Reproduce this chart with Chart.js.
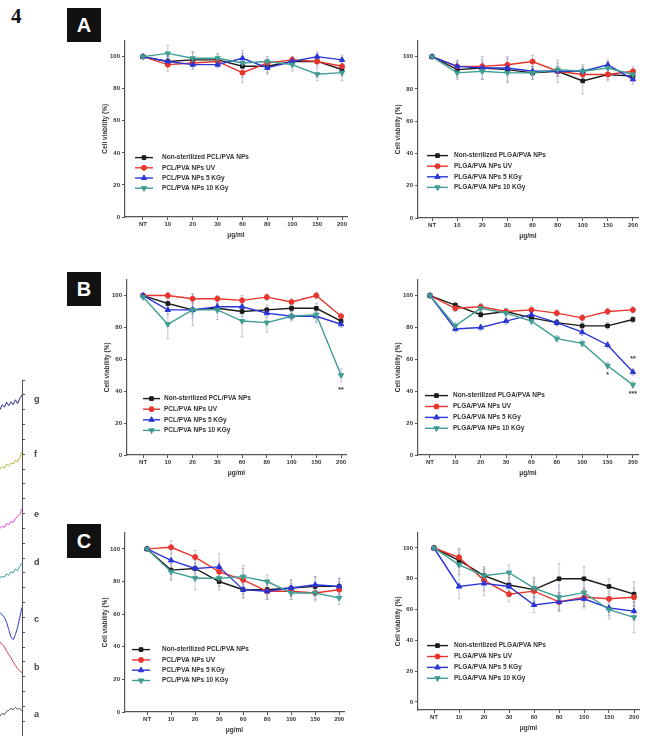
<!DOCTYPE html>
<html>
<head>
<meta charset="utf-8">
<script src="https://cdn.jsdelivr.net/npm/chart.js@4.4.0/dist/chart.umd.min.js"></script>
<style>
  body { margin: 0; background: #fff; width: 648px; height: 736px; position: relative; overflow: hidden; }
  .tag { position: absolute; width: 34px; height: 34px; background: #111; color: #fff;
         font: bold 20px "Liberation Sans", Arial, sans-serif; display: flex; align-items: center; justify-content: center; }
  .num { position: absolute; left: 11px; top: 4px; font: bold 21px "Liberation Serif", "DejaVu Serif", serif; color: #111; }
</style>
</head>
<body>
<div class="num">4</div>
<div class="tag" style="left:67px;top:8px">A</div>
<div class="tag" style="left:67px;top:272px">B</div>
<div class="tag" style="left:67px;top:524px">C</div>

<script>
const FONT = '"Liberation Sans", Arial, sans-serif';

const xLabels = ['NT', '10', '20', '30', '60', '80', '100', '150', '200'];
const yTicks = [0, 20, 40, 60, 80, 100];
const pclNames = ['Non-sterilized PCL/PVA NPs', 'PCL/PVA NPs UV', 'PCL/PVA NPs 5 KGy', 'PCL/PVA NPs 10 KGy'];
const plgaNames = ['Non-sterilized PLGA/PVA NPs', 'PLGA/PVA NPs UV', 'PLGA/PVA NPs 5 KGy', 'PLGA/PVA NPs 10 KGy'];

// panel A - PCL/PVA
const aPclNonSter = [100, 97, 98, 98, 94, 94, 97, 97, 92];
const aPclUV      = [100, 95, 96, 97, 90, 96, 98, 97, 94];
const aPcl5       = [100, 97, 95, 95, 99, 93, 97, 100, 98];
const aPcl10      = [100, 102, 99, 99, 96, 97, 95, 89, 90];
const aPclErr = [[0, 3, 5, 3, 10, 4, 3, 3, 4], [0, 4, 2, 2, 3, 3, 2, 2, 3], [0, 3, 3, 2, 3, 4, 2, 3, 3], [0, 5, 4, 3, 3, 3, 4, 4, 5]];

// panel A - PLGA/PVA
const aPlgaNonSter = [100, 92, 93, 92, 90, 91, 85, 89, 88];
const aPlgaUV      = [100, 94, 94, 95, 97, 91, 89, 89, 91];
const aPlga5       = [100, 94, 93, 93, 91, 91, 91, 95, 86];
const aPlga10      = [100, 90, 91, 90, 90, 92, 91, 93, 89];
const aPlgaErr = [[0, 5, 7, 8, 4, 7, 8, 4, 3], [0, 4, 4, 4, 4, 3, 3, 3, 3], [0, 3, 3, 3, 3, 3, 3, 3, 3], [0, 4, 5, 5, 4, 4, 4, 4, 3]];

// panel B - PCL/PVA
const bPclNonSter = [100, 95, 91, 92, 90, 91, 92, 92, 84];
const bPclUV      = [100, 100, 98, 98, 97, 99, 96, 100, 87];
const bPcl5       = [100, 91, 91, 93, 93, 89, 87, 87, 82];
const bPcl10      = [99, 82, 91, 91, 84, 83, 87, 88, 50];
const bPclErr = [[0, 3, 3, 3, 3, 3, 2, 3, 2], [0, 2, 3, 2, 3, 2, 2, 2, 2], [0, 3, 5, 3, 3, 3, 2, 3, 2], [0, 9, 10, 6, 10, 6, 3, 5, 4]];

// panel B - PLGA/PVA
const bPlgaNonSter = [100, 94, 88, 90, 86, 83, 81, 81, 85];
const bPlgaUV      = [100, 92, 93, 90, 91, 89, 86, 90, 91];
const bPlga5       = [100, 79, 80, 84, 88, 83, 77, 69, 52];
const bPlga10      = [100, 81, 92, 89, 84, 73, 70, 56, 44];
const bPlgaErr = [[0, 2, 2, 2, 2, 2, 2, 2, 2], [0, 2, 2, 2, 2, 2, 2, 2, 2], [0, 2, 2, 2, 2, 2, 2, 2, 2], [0, 2, 2, 2, 2, 2, 2, 2, 2]];

// panel C - PCL/PVA
const cPclNonSter = [100, 87, 88, 80, 75, 75, 76, 77, 77];
const cPclUV      = [100, 101, 95, 86, 81, 74, 74, 73, 75];
const cPcl5       = [100, 93, 88, 89, 75, 74, 76, 78, 77];
const cPcl10      = [100, 86, 82, 82, 83, 80, 73, 73, 70];
const cPclErr = [[0, 6, 6, 5, 5, 5, 5, 6, 5], [0, 4, 4, 6, 9, 5, 5, 5, 5], [0, 7, 6, 8, 5, 5, 5, 5, 5], [0, 5, 7, 5, 5, 4, 4, 4, 4]];

// panel C - PLGA/PVA
const cPlgaNonSter = [100, 92, 82, 76, 73, 80, 80, 75, 70];
const cPlgaUV      = [100, 94, 79, 70, 72, 65, 68, 67, 68];
const cPlga5       = [100, 75, 77, 75, 63, 65, 67, 61, 59];
const cPlga10      = [100, 89, 82, 84, 74, 68, 71, 60, 55];
const cPlgaErr = [[0, 7, 6, 5, 8, 10, 8, 5, 8], [0, 6, 7, 5, 6, 6, 6, 5, 6], [0, 8, 8, 6, 5, 6, 6, 5, 6], [0, 6, 5, 5, 6, 8, 9, 6, 10]];

// significance marks: [x index, y value, text]
const bPclStars = [[8, 41, '**']];
const bPlgaStars = [[8, 60, '**'], [7, 50, '*'], [8, 38, '***']];

// spectra strip on the left (partial figure, bottom to top: a..g)
const specNames = ['a', 'b', 'c', 'd', 'e', 'f', 'g'];
const specColors = ['#555555', '#d04545', '#2a3fd0', '#3a9c9c', '#e04ae0', '#b4b43a', '#2c2c8c'];
const specA = [4, 4.6, 4.3, 5, 5.2, 5.6, 5.3, 5.8, 5.4, 5.6, 5];
const specB = [19, 18.5, 18, 17.2, 16.5, 15.8, 15, 14.3, 13.6, 13.2, 12.8];
const specC = [25, 24.5, 24, 23, 21.5, 20, 19.5, 20.5, 22, 24, 26];
const specD = [32, 32.3, 32.1, 32.8, 32.5, 33.2, 33, 33.8, 33.4, 34.3, 35];
const specE = [42, 42.4, 42.2, 43, 42.7, 43.4, 43.2, 44, 44.4, 44.8, 46];
const specF = [54, 54.5, 54.2, 55, 54.6, 55.2, 55, 55.8, 55.4, 56.3, 57.5];
const specG = [66, 67, 66.5, 67.5, 66.8, 67.6, 67, 68, 67.2, 68.3, 69];
const specLabelY = [4.3, 13.8, 23.5, 35, 44.7, 56.9, 68];

const seriesStyle = [
  { color: '#1b1b1b', point: 'rect', rot: 0, r: 2.6 },
  { color: '#e8352d', point: 'circle', rot: 0, r: 2.5 },
  { color: '#2b36d6', point: 'triangle', rot: 0, r: 3.1 },
  { color: '#3f9d92', point: 'triangle', rot: 180, r: 3.1 }
];

// plot-area geometry in page pixels (L,R = x axis span, T = value 110, B = axis line)
const panels = [
  { names: pclNames, series: [aPclNonSter, aPclUV, aPcl5, aPcl10], err: aPclErr, stars: [],
    L: 125, R: 347, T: 35, B: 217, ymin: 0, xmin: -0.72, xmax: 8.2, leg: [10, 28, 37, 117, 10.2] },
  { names: plgaNames, series: [aPlgaNonSter, aPlgaUV, aPlga5, aPlga10], err: aPlgaErr, stars: [],
    L: 418, R: 638, T: 35, B: 218, ymin: 0, xmin: -0.56, xmax: 8.2, leg: [9, 30, 36, 115, 10.6] },
  { names: pclNames, series: [bPclNonSter, bPclUV, bPcl5, bPcl10], err: bPclErr, stars: bPclStars,
    L: 127, R: 346, T: 274, B: 455, ymin: 0, xmin: -0.65, xmax: 8.2, leg: [16, 33, 37, 119, 10.6] },
  { names: plgaNames, series: [bPlgaNonSter, bPlgaUV, bPlga5, bPlga10], err: bPlgaErr, stars: bPlgaStars,
    L: 418, R: 638, T: 274, B: 455, ymin: 0, xmin: -0.47, xmax: 8.2, leg: [7, 30, 35, 116, 10.9] },
  { names: pclNames, series: [cPclNonSter, cPclUV, cPcl5, cPcl10], err: cPclErr, stars: [],
    L: 125, R: 344, T: 527, B: 712, ymin: 0, xmin: -0.92, xmax: 8.2, leg: [7, 25, 37, 117, 10.3] },
  { names: plgaNames, series: [cPlgaNonSter, cPlgaUV, cPlga5, cPlga10], err: cPlgaErr, stars: [],
    L: 418, R: 639, T: 527, B: 710, ymin: -5.2, xmin: -0.64, xmax: 8.2, leg: [9, 30, 36, 113, 10.9] }
];

const tickFont = { family: FONT, size: 6, weight: 'bold' };
const titleFont = { family: FONT, size: 6.5, weight: 'bold' };

function makePanel(p) {
  const W = 24, H = 22, PR = 8;
  const cv = document.createElement('canvas');
  const w = Math.round(p.R - p.L) + W + PR;
  const h = Math.round(p.B - p.T) + H;
  cv.width = w;
  cv.height = h;
  cv.style.cssText = `position:absolute;left:${p.L - W}px;top:${p.T}px;width:${w}px;height:${h}px`;
  document.body.appendChild(cv);

  const datasets = p.series.map((vals, i) => {
    const st = seriesStyle[i];
    return {
      label: p.names[i],
      data: vals.map((v, j) => ({ x: j, y: v })),
      borderColor: st.color,
      backgroundColor: st.color,
      borderWidth: 1.4,
      pointStyle: st.point,
      pointRotation: st.rot,
      pointRadius: st.r,
      pointBorderWidth: 1,
      pointBackgroundColor: st.color,
      pointBorderColor: st.color,
      tension: 0,
      fill: false,
      order: 4 - i
    };
  });

  const extras = {
    id: 'extras',
    beforeDatasetsDraw(chart) {
      const ctx = chart.ctx, xs = chart.scales.x, ys = chart.scales.y;
      ctx.save();
      ctx.strokeStyle = 'rgba(150,150,175,0.55)';
      ctx.lineWidth = 1;
      p.series.forEach((vals, i) => {
        vals.forEach((v, j) => {
          const e = p.err[i][j];
          if (!e) return;
          const x = xs.getPixelForValue(j);
          const y1 = ys.getPixelForValue(v + e), y2 = ys.getPixelForValue(v - e);
          ctx.beginPath();
          ctx.moveTo(x, y1); ctx.lineTo(x, y2);
          ctx.moveTo(x - 1.5, y1); ctx.lineTo(x + 1.5, y1);
          ctx.moveTo(x - 1.5, y2); ctx.lineTo(x + 1.5, y2);
          ctx.stroke();
        });
      });
      ctx.restore();
    },
    afterDatasetsDraw(chart) {
      const ctx = chart.ctx, xs = chart.scales.x, ys = chart.scales.y, ca = chart.chartArea;
      ctx.save();
      ctx.textAlign = 'center';
      ctx.textBaseline = 'middle';
      ctx.fillStyle = '#333';
      ctx.font = `bold 7px ${FONT}`;
      p.stars.forEach(s => ctx.fillText(s[2], xs.getPixelForValue(s[0]), ys.getPixelForValue(s[1])));

      // legend drawn inside the plot
      const [x1, x2, tx, y0, dy] = p.leg;
      ctx.textAlign = 'left';
      ctx.font = `bold 6.5px ${FONT}`;
      p.names.forEach((name, i) => {
        const st = seriesStyle[i];
        const y = ca.top + y0 + i * dy;
        ctx.strokeStyle = st.color;
        ctx.fillStyle = st.color;
        ctx.lineWidth = 1.4;
        ctx.beginPath();
        ctx.moveTo(ca.left + x1, y);
        ctx.lineTo(ca.left + x2, y);
        ctx.stroke();
        ctx.lineWidth = 1;
        Chart.helpers.drawPoint(ctx, { pointStyle: st.point, rotation: st.rot, radius: st.r, borderWidth: 1 }, ca.left + (x1 + x2) / 2, y);
        ctx.fillStyle = '#333';
        ctx.fillText(name, ca.left + tx, y);
      });
      ctx.restore();
    }
  };

  new Chart(cv, {
    type: 'line',
    data: { datasets },
    options: {
      responsive: false,
      animation: false,
      devicePixelRatio: 1,
      layout: { padding: { left: 0, top: 0, bottom: 0, right: PR } },
      plugins: { legend: { display: false }, tooltip: { enabled: false } },
      scales: {
        x: {
          type: 'linear',
          min: p.xmin,
          max: p.xmax,
          afterBuildTicks: s => { s.ticks = xLabels.map((_, i) => ({ value: i })); },
          afterFit: s => { s.height = H; },
          ticks: { autoSkip: false, maxRotation: 0, padding: 1, font: tickFont, color: '#333',
                   callback: v => xLabels[v] },
          grid: { drawOnChartArea: false, drawTicks: true, tickLength: 3, color: '#555' },
          border: { color: '#555', width: 1.2 },
          title: { display: true, text: 'μg/ml', font: titleFont, color: '#333', padding: 0 }
        },
        y: {
          min: p.ymin,
          max: 110,
          afterBuildTicks: s => { s.ticks = yTicks.map(v => ({ value: v })); },
          afterFit: s => { s.width = W; },
          ticks: { padding: 2, font: tickFont, color: '#333' },
          grid: { drawOnChartArea: false, drawTicks: true, tickLength: 3, color: '#555' },
          border: { color: '#555', width: 1.2 },
          title: { display: true, text: 'Cell viability (%)', font: titleFont, color: '#333', padding: 0 }
        }
      }
    },
    plugins: [extras]
  });
}

panels.forEach(makePanel);

// spectra strip
function makeSpectra() {
  const cv = document.createElement('canvas');
  cv.width = 48; cv.height = 356;
  cv.style.cssText = 'position:absolute;left:0;top:380px;width:48px;height:356px';
  document.body.appendChild(cv);
  const traces = [specA, specB, specC, specD, specE, specF, specG];
  new Chart(cv, {
    type: 'line',
    data: {
      datasets: traces.map((vals, i) => ({
        label: specNames[i],
        data: vals.map((v, j) => ({ x: j, y: v })),
        borderColor: specColors[i],
        borderWidth: 1,
        pointRadius: 0,
        tension: 0
      }))
    },
    options: {
      responsive: false,
      animation: false,
      devicePixelRatio: 1,
      layout: { padding: { right: 20 } },
      plugins: { legend: { display: false }, tooltip: { enabled: false } },
      scales: {
        x: { type: 'linear', min: 0, max: 10, display: false },
        y: {
          position: 'right', min: 0, max: 72,
          afterFit: s => { s.width = 6; },
          ticks: { display: false, stepSize: 3 },
          grid: { drawOnChartArea: false, drawTicks: true, tickLength: 3, color: '#555' },
          border: { color: '#555', width: 1 }
        }
      }
    },
    plugins: [{
      id: 'specLabels',
      afterDraw(chart) {
        const ctx = chart.ctx, ys = chart.scales.y;
        ctx.save();
        ctx.fillStyle = '#444';
        ctx.font = `bold 9px ${FONT}`;
        ctx.textBaseline = 'middle';
        specNames.forEach((n, i) => ctx.fillText(n, chart.chartArea.right + 12, ys.getPixelForValue(specLabelY[i])));
        ctx.restore();
      }
    }]
  });
}
makeSpectra();
</script>
</body>
</html>
